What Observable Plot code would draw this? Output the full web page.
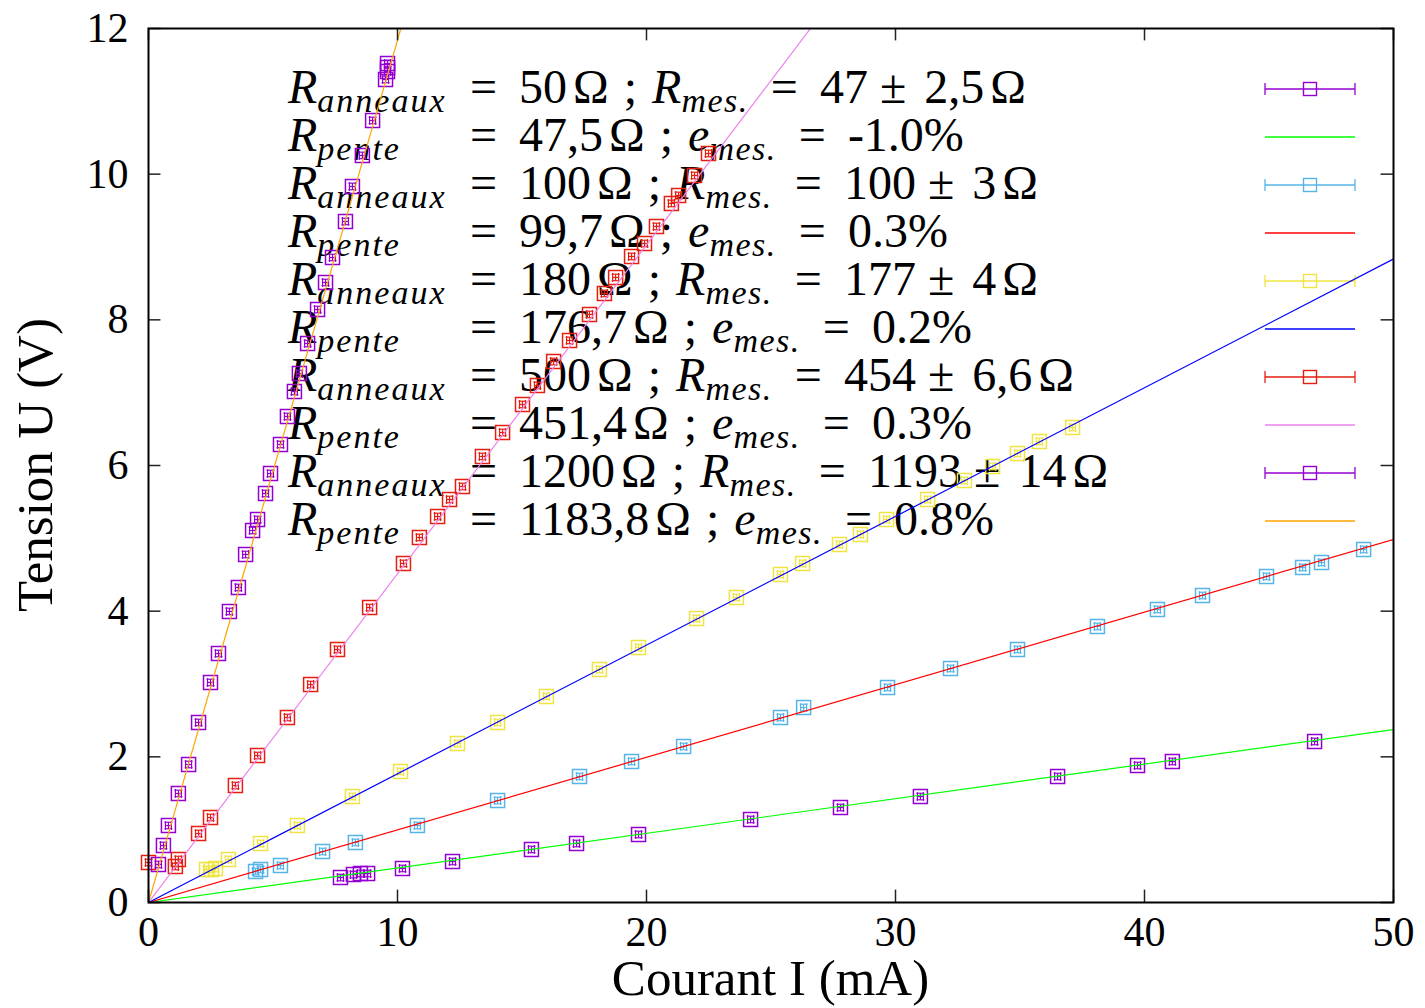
<!DOCTYPE html>
<html><head><meta charset="utf-8">
<script src="https://cdn.jsdelivr.net/npm/d3@7"></script>
<script src="https://cdn.jsdelivr.net/npm/@observablehq/plot@0.6"></script>
<style>html,body{margin:0;padding:0;background:#fff} svg{display:block}</style>
</head><body><div id="chart"></div>
<script>
// ---- Data (I in mA, U in V) ----
const s50_I  = [7.71, 8.23, 8.51, 8.80, 10.20, 12.21, 15.38, 17.19, 19.68, 24.18, 27.79, 31.00, 36.51, 39.72, 41.12, 46.83];
const s50_U  = [0.343, 0.384, 0.398, 0.398, 0.467, 0.563, 0.728, 0.810, 0.934, 1.140, 1.304, 1.455, 1.730, 1.881, 1.936, 2.211];

const s100_I = [4.30, 4.50, 5.30, 6.99, 8.31, 10.80, 14.02, 17.31, 19.40, 21.49, 25.38, 26.31, 29.68, 32.21, 34.90, 38.11, 40.52, 42.33, 44.90, 46.35, 47.11, 48.80];
const s100_U = [0.426, 0.453, 0.508, 0.700, 0.824, 1.057, 1.400, 1.730, 1.936, 2.142, 2.540, 2.677, 2.952, 3.213, 3.474, 3.790, 4.023, 4.215, 4.476, 4.600, 4.668, 4.847];

const s180_I = [2.33, 2.53, 2.69, 3.21, 4.50, 5.98, 8.19, 10.12, 12.41, 14.02, 15.98, 18.11, 19.68, 22.01, 23.61, 25.38, 26.27, 27.75, 28.59, 29.64, 31.29, 32.77, 33.90, 34.90, 35.78, 37.11];
const s180_U = [0.453, 0.453, 0.467, 0.590, 0.810, 1.057, 1.455, 1.799, 2.183, 2.472, 2.829, 3.199, 3.501, 3.899, 4.188, 4.504, 4.655, 4.916, 5.053, 5.259, 5.533, 5.794, 5.987, 6.165, 6.330, 6.522];

const s500_I = [0.00, 1.08, 1.20, 2.01, 2.49, 3.49, 4.38, 5.58, 6.51, 7.59, 8.88, 10.24, 10.88, 11.61, 12.09, 12.61, 13.41, 14.22, 15.02, 15.62, 16.27, 16.91, 17.71, 18.31, 18.76, 19.40, 19.92, 20.40, 21.00, 21.29, 21.93, 22.49];
const s500_U = [0.549, 0.494, 0.590, 0.947, 1.167, 1.606, 2.018, 2.540, 2.993, 3.474, 4.050, 4.655, 5.012, 5.300, 5.533, 5.712, 6.124, 6.453, 6.838, 7.099, 7.428, 7.717, 8.074, 8.362, 8.582, 8.870, 9.048, 9.282, 9.598, 9.708, 9.982, 10.284];

const s1200_I = [0.40, 0.60, 0.80, 1.20, 1.61, 2.01, 2.49, 2.81, 3.25, 3.61, 3.90, 4.18, 4.38, 4.70, 4.90, 5.30, 5.58, 5.86, 6.06, 6.39, 6.79, 7.11, 7.39, 7.91, 8.19, 8.59, 9.00, 9.52, 9.60, 9.60, 9.60];
const s1200_U = [0.522, 0.783, 1.057, 1.497, 1.895, 2.472, 3.021, 3.419, 3.996, 4.325, 4.778, 5.108, 5.259, 5.616, 5.890, 6.289, 6.673, 7.016, 7.263, 7.675, 8.142, 8.513, 8.856, 9.351, 9.831, 10.257, 10.737, 11.300, 11.410, 11.465, 11.520];

// Legend / fit values
const rAnneaux = ["50", "100", "180", "500", "1200"];
const rMes     = ["47", "100", "177", "454", "1193"];
const rMesErr  = ["2,5", "3", "4", "6,6", "14"];
const rPenteTxt = ["47,5", "99,7", "176,7", "451,4", "1183,8"];
const rPente   = [47.5, 99.7, 176.7, 451.4, 1183.8];
const eMes     = ["-1.0%", "0.3%", "0.2%", "0.3%", "0.8%"];

const xTicks = [0, 10, 20, 30, 40, 50];
const yTicks = [0, 2, 4, 6, 8, 10, 12];

const pointColors = ["#9400d3", "#56b4e9", "#f0e442", "#e51e10", "#9400d3"];
const lineColors  = ["#00ff00", "#ff0000", "#0000ff", "#ee82ee", "#ffa500"];

const FONT = "'Liberation Serif', 'DejaVu Serif', serif";

const seriesI = [s50_I, s100_I, s180_I, s500_I, s1200_I];
const seriesU = [s50_U, s100_U, s180_U, s500_U, s1200_U];
const tables = seriesI.map((I, k) => I.map((v, i) => ({I: v, U: seriesU[k][i]})));
const fitLines = rPente.map(R => [{I: 0, U: 0}, {I: 50, U: R * 50 / 1000}]);

// error bar half-widths (style)
const dI = 0.12, dU = 0.045, capI = 0.16, capU = 0.06;

function seriesMarks(k) {
  const data = tables[k], c = pointColors[k];
  return [
    Plot.link(data, {x1: d => d.I - dI, x2: d => d.I + dI, y1: "U", y2: "U", stroke: c, strokeWidth: 1.2}),
    Plot.link(data, {x1: "I", x2: "I", y1: d => d.U - dU, y2: d => d.U + dU, stroke: c, strokeWidth: 1.2}),
    Plot.link(data, {x1: d => d.I - dI, x2: d => d.I - dI, y1: d => d.U - capU, y2: d => d.U + capU, stroke: c, strokeWidth: 1.2}),
    Plot.link(data, {x1: d => d.I + dI, x2: d => d.I + dI, y1: d => d.U - capU, y2: d => d.U + capU, stroke: c, strokeWidth: 1.2}),
    Plot.link(data, {x1: d => d.I - capI, x2: d => d.I + capI, y1: d => d.U - dU, y2: d => d.U - dU, stroke: c, strokeWidth: 1.2}),
    Plot.link(data, {x1: d => d.I - capI, x2: d => d.I + capI, y1: d => d.U + dU, y2: d => d.U + dU, stroke: c, strokeWidth: 1.2}),
    Plot.dot(data, {x: "I", y: "U", symbol: "square", r: 7.9, stroke: c, fill: "none", strokeWidth: 1.5}),
    Plot.line(fitLines[k], {x: "I", y: "U", stroke: lineColors[k], strokeWidth: 1.2, clip: true})
  ];
}

// legend + axis titles drawn as a function mark
function legendMark(index, scales, values, dims) {
  const g = d3.create("svg:g").attr("font-family", FONT).attr("fill", "#000").attr("text-anchor", "start");
  const fl = dims.marginLeft, ft = dims.marginTop, fr = dims.width - dims.marginRight;
  const textX = fl + 140, eqX = fl + 322, row0 = ft + 61, step = 48;
  const big = 48, small = 34, sub = 9;
  const sampleX1 = fr - 128, sampleX2 = fr - 38, sampleXc = (sampleX1 + sampleX2) / 2;
  const piece = (t, txt, dx, opts = {}) => {
    const s = t.append("tspan").text(txt);
    if (dx) s.attr("dx", dx);
    if (opts.italic) s.attr("font-style", "italic");
    if (opts.size) s.attr("font-size", opts.size);
    if (opts.dy) s.attr("dy", opts.dy);
    if (opts.ls) s.attr("letter-spacing", opts.ls);
    return s;
  };
  for (let k = 0; k < 5; ++k) {
    for (let j = 0; j < 2; ++j) {
      const row = 2 * k + j, cy = row0 + row * step, base = cy + 14;
      const t1 = g.append("text").attr("x", textX).attr("y", base).attr("font-size", big);
      piece(t1, "R", 0, {italic: true});
      piece(t1, j === 0 ? "anneaux" : "pente", 0, {italic: true, size: small, dy: sub, ls: 2});
      const t2 = g.append("text").attr("x", eqX).attr("y", base).attr("font-size", big);
      piece(t2, "=", 0);
      if (j === 0) {
        piece(t2, rAnneaux[k], 22);
        piece(t2, "\u03A9", 6);
        piece(t2, ";", 15);
        piece(t2, "R", 15, {italic: true});
        piece(t2, "mes.", 0, {italic: true, size: small, dy: sub, ls: 1.5});
        piece(t2, "=", 22, {dy: -sub});
        piece(t2, rMes[k], 22);
        piece(t2, "\u00B1", 12);
        piece(t2, rMesErr[k], 18);
        piece(t2, "\u03A9", 6);
        const c = pointColors[k];
        g.append("line").attr("x1", sampleX1).attr("x2", sampleX2).attr("y1", cy).attr("y2", cy).attr("stroke", c).attr("stroke-width", 1.3);
        g.append("line").attr("x1", sampleX1).attr("x2", sampleX1).attr("y1", cy - 6).attr("y2", cy + 6).attr("stroke", c).attr("stroke-width", 1.3);
        g.append("line").attr("x1", sampleX2).attr("x2", sampleX2).attr("y1", cy - 6).attr("y2", cy + 6).attr("stroke", c).attr("stroke-width", 1.3);
        g.append("rect").attr("x", sampleXc - 6.5).attr("y", cy - 6.5).attr("width", 13).attr("height", 13).attr("fill", "none").attr("stroke", c).attr("stroke-width", 1.4);
      } else {
        piece(t2, rPenteTxt[k], 22);
        piece(t2, "\u03A9", 6);
        piece(t2, ";", 15);
        piece(t2, "e", 15, {italic: true});
        piece(t2, "mes.", 0, {italic: true, size: small, dy: sub, ls: 1.5});
        piece(t2, "=", 22, {dy: -sub});
        piece(t2, eMes[k], 22);
        g.append("line").attr("x1", sampleX1).attr("x2", sampleX2).attr("y1", cy).attr("y2", cy).attr("stroke", lineColors[k]).attr("stroke-width", 1.3);
      }
    }
  }
  // axis titles
  const cx = (fl + fr) / 2, cyF = (ft + dims.height - dims.marginBottom) / 2;
  g.append("text").attr("x", cx).attr("y", dims.height - 13).attr("text-anchor", "middle").attr("font-size", 51).text("Courant I (mA)");
  g.append("text").attr("transform", `translate(${fl - 96},${cyF}) rotate(-90)`).attr("text-anchor", "middle").attr("font-size", 51).text("Tension U (V)");
  return g.node();
}

const marks = [
  legendMark,
  ...[0, 1, 2, 3, 4].flatMap(seriesMarks),
  Plot.ruleY(yTicks, {x1: 0, x2: 0.5, stroke: "#222", strokeWidth: 1.5}),
  Plot.ruleY(yTicks, {x1: 49.5, x2: 50, stroke: "#222", strokeWidth: 1.5}),
  Plot.ruleX(xTicks, {y1: 0, y2: 0.17, stroke: "#222", strokeWidth: 1.5}),
  Plot.ruleX(xTicks, {y1: 11.83, y2: 12, stroke: "#222", strokeWidth: 1.5}),
  Plot.axisX(xTicks, {tickSize: 0, tickPadding: 14, fontSize: 42, fontFamily: FONT, tickFormat: d => String(d), label: null}),
  Plot.axisY(yTicks, {tickSize: 0, tickPadding: 20, fontSize: 42, fontFamily: FONT, tickFormat: d => String(d), label: null}),
  Plot.frame({stroke: "#000", strokeWidth: 2})
];

const chart = Plot.plot({
  width: 1425, height: 1008,
  marginLeft: 148, marginRight: 32, marginTop: 28, marginBottom: 106,
  x: {domain: [0, 50]},
  y: {domain: [0, 12]},
  style: {fontFamily: FONT, background: "#fff", color: "#000", overflow: "visible"},
  marks
});
document.getElementById("chart").appendChild(chart);
</script>
</body></html>
